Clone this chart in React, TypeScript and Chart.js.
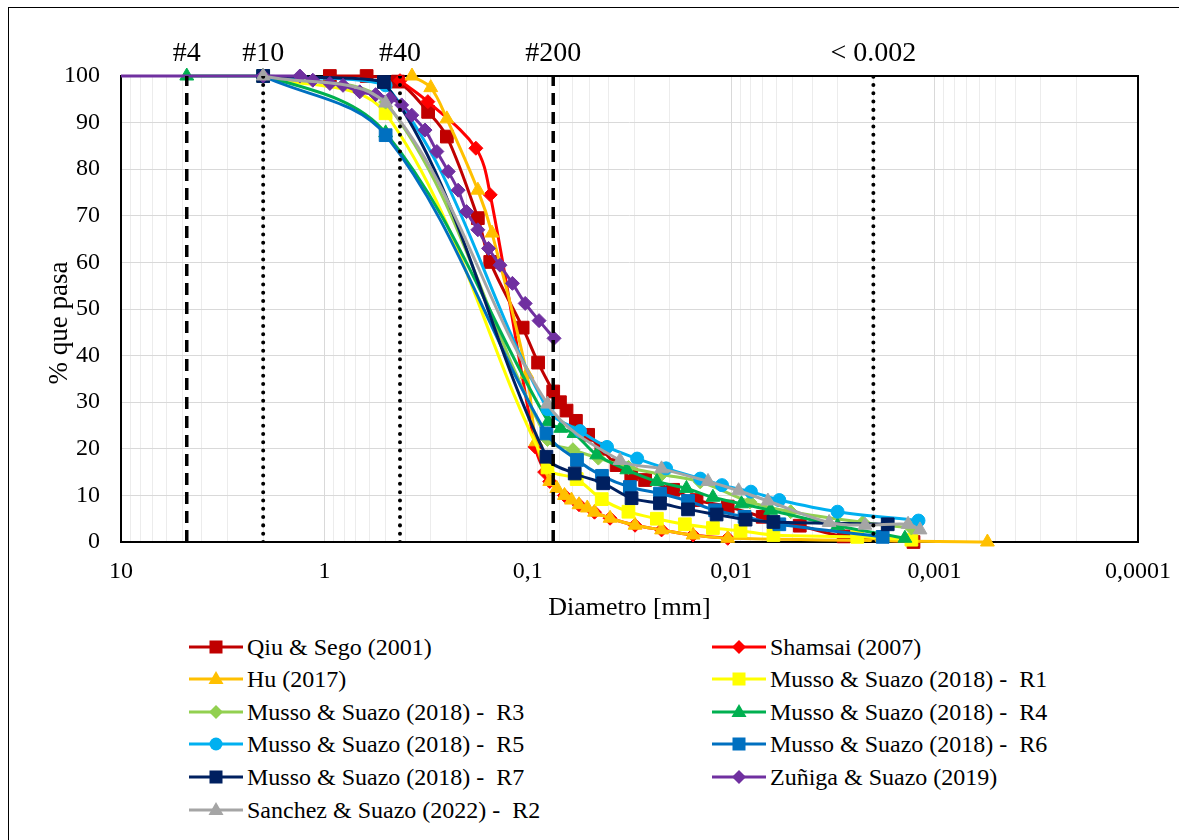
import React, { useEffect, useRef } from 'react';
import { Chart, registerables } from 'chart.js';

Chart.register(...registerables);

const FONT = "'Liberation Serif', 'Times New Roman', Times, serif";

// ---------------- data (diameter in mm, % passing) ----------------
const qiuD = [0.94, 0.62, 0.435, 0.309, 0.25, 0.176, 0.153, 0.106, 0.089, 0.075, 0.0695, 0.0645, 0.058, 0.0505, 0.0435, 0.0366, 0.031, 0.0265, 0.0193, 0.0148, 0.0104, 0.007, 0.0046, 0.0028, 0.00127];
const qiuP = [100, 100, 98.8, 92.3, 87, 69.5, 60.1, 46, 38.5, 32.3, 30, 28.2, 26, 23, 20, 16.5, 14.5, 13.3, 11.2, 9, 7.6, 5.4, 3.5, 1.2, 0];

const shamD = [0.425, 0.31, 0.18, 0.153, 0.092, 0.0826, 0.078, 0.066, 0.056, 0.047, 0.0394, 0.0297, 0.022, 0.0154, 0.0104];
const shamP = [99, 94.5, 84.5, 74.5, 20.4, 15, 13, 10, 8, 6.4, 5.1, 3.6, 2.6, 1.5, 0.8];

const huD = [0.371, 0.3, 0.25, 0.176, 0.15, 0.101, 0.0912, 0.078, 0.072, 0.066, 0.061, 0.056, 0.051, 0.047, 0.0394, 0.0297, 0.022, 0.0154, 0.0104, 0.00055];
const huP = [100, 97.5, 90.8, 75.5, 66.3, 36, 21.5, 13, 11.5, 10, 9, 8, 7.3, 6.4, 5.1, 3.6, 2.6, 1.5, 0.8, 0];

const r1D = [2, 0.5, 0.08, 0.0575, 0.0433, 0.032, 0.0232, 0.0169, 0.0123, 0.009, 0.0062, 0.0024, 0.0013];
const r1P = [100, 92, 16, 13.5, 9.2, 6.5, 5, 3.8, 3, 2.4, 1.5, 1.1, 0.5];

const r3D = [2, 0.5, 0.08, 0.06, 0.045, 0.032, 0.022, 0.0142, 0.0081, 0.0051, 0.00225, 0.0013];
const r3P = [100, 94.4, 22, 19.8, 18, 16, 14.5, 12.9, 8.6, 6.5, 4.2, 3];

const r4D = [4.75, 2, 0.5, 0.0793, 0.0689, 0.0593, 0.0458, 0.0326, 0.0232, 0.0166, 0.0123, 0.0089, 0.0064, 0.003, 0.0014];
const r4P = [100, 100, 87.8, 25.8, 24.4, 23.3, 18.7, 15.5, 13, 11.5, 9.6, 8.2, 6.8, 3.5, 0.8];

const r5D = [2, 0.5, 0.08, 0.0554, 0.0408, 0.029, 0.0209, 0.0142, 0.0111, 0.008, 0.0058, 0.003, 0.0012];
const r5P = [100, 98, 28.5, 23.8, 20.4, 17.9, 15.8, 13.6, 12.2, 10.8, 9, 6.5, 4.6];

const r6D = [2, 0.5, 0.081, 0.0573, 0.0432, 0.0315, 0.0224, 0.0163, 0.012, 0.0086, 0.0058, 0.0018];
const r6P = [100, 87.3, 23.3, 17.6, 14.2, 11.8, 10.4, 8.8, 6.8, 5.4, 3.8, 1.1];

const r7D = [2, 0.51, 0.081, 0.0588, 0.0426, 0.0309, 0.0224, 0.0163, 0.0118, 0.0085, 0.0062, 0.0017];
const r7P = [100, 98.7, 18.3, 14.7, 12.6, 9.4, 8.3, 7, 5.9, 4.8, 4.3, 3.8];

const zunD = [12, 2, 1.32, 1.14, 0.94, 0.81, 0.67, 0.56, 0.476, 0.417, 0.372, 0.32, 0.28, 0.246, 0.22, 0.2, 0.176, 0.156, 0.137, 0.119, 0.103, 0.088, 0.0743];
const zunP = [100, 100, 100, 99.1, 98.4, 98, 96.6, 96, 95.2, 93.8, 91.6, 88.4, 83.8, 79.5, 75.5, 70.9, 67, 63, 59.4, 55.5, 51.2, 47.5, 43.7];

const sanD = [2, 0.5, 0.08, 0.0352, 0.022, 0.013, 0.0092, 0.0066, 0.0033, 0.0022, 0.00135, 0.00118];
const sanP = [100, 94.2, 29.6, 17.5, 15.7, 13, 11, 8.8, 4.2, 3.6, 3.8, 2.6];

const seriesNames = [
  'Qiu & Sego (2001)',
  'Shamsai (2007)',
  'Hu (2017)',
  'Musso & Suazo (2018) -  R1',
  'Musso & Suazo (2018) -  R3',
  'Musso & Suazo (2018) -  R4',
  'Musso & Suazo (2018) -  R5',
  'Musso & Suazo (2018) -  R6',
  'Musso & Suazo (2018) -  R7',
  'Zuñiga & Suazo (2019)',
  'Sanchez & Suazo (2022) -  R2',
];
const seriesColors = ['#C00000', '#FF0000', '#FFC000', '#FFFF00', '#92D050', '#00B050', '#00B0F0', '#0070C0', '#002060', '#7030A0', '#A5A5A5'];
const seriesMarkers = ['rect', 'rectRot', 'triangle', 'rect', 'rectRot', 'triangle', 'circle', 'rect', 'rect', 'rectRot', 'triangle'];
const seriesData = [
  [qiuD, qiuP], [shamD, shamP], [huD, huP], [r1D, r1P], [r3D, r3P], [r4D, r4P],
  [r5D, r5P], [r6D, r6P], [r7D, r7P], [zunD, zunP], [sanD, sanP],
];

// x axis labels
const xTickValues = [10, 1, 0.1, 0.01, 0.001, 0.0001];
const xTickLabels = ['10', '1', '0,1', '0,01', '0,001', '0,0001'];

// sieve reference lines
const refLabels = ['#4', '#10', '#40', '#200', '< 0.002'];
const refSizes = [4.75, 2, 0.425, 0.075, 0.002];
const refDashed = [true, false, false, true, false];

const xTitle = 'Diametro [mm]';
const yTitle = '% que pasa';

const markerRadius: Record<string, number> = { rect: 9, rectRot: 7, triangle: 8, circle: 6.5 };

const annotPlugin = {
  id: 'annot',
  beforeDatasetsDraw(chart: any) {
    const { ctx, chartArea: a } = chart;
    ctx.save();
    ctx.strokeStyle = '#000';
    ctx.lineWidth = 2;
    ctx.strokeRect(a.left, a.top, a.right - a.left, a.bottom - a.top);
    ctx.restore();
  },
  afterDraw(chart: any) {
    const { ctx, chartArea: a } = chart;
    const xs = chart.scales.x;
    ctx.save();
    ctx.fillStyle = '#000';
    ctx.textAlign = 'center';
    ctx.textBaseline = 'middle';
    ctx.font = `26px ${FONT}`;
    ctx.fillText(xTitle, (a.left + a.right) / 2, a.bottom + 66);
    ctx.save();
    ctx.translate(a.left - 61, (a.top + a.bottom) / 2 + 14);
    ctx.rotate(-Math.PI / 2);
    ctx.font = `27px ${FONT}`;
    ctx.fillText(yTitle, 0, 0);
    ctx.restore();
    ctx.font = `28px ${FONT}`;
    refLabels.forEach((lab, i) => {
      ctx.fillText(lab, xs.getPixelForValue(refSizes[i]), a.top - 22);
    });
    ctx.restore();
  },
};

function LegendIcon({ color, marker }: { color: string; marker: string }) {
  let shape: any = null;
  if (marker === 'rect') shape = <rect x={20.5} y={3.5} width={13} height={13} fill={color} />;
  else if (marker === 'rectRot') shape = <polygon points="27,3 34,10 27,17 20,10" fill={color} />;
  else if (marker === 'triangle') shape = <polygon points="27,2 34.5,15 19.5,15" fill={color} />;
  else shape = <circle cx={27} cy={10} r={6.5} fill={color} />;
  return (
    <svg width={54} height={20} style={{ display: 'block' }}>
      <line x1={0} y1={10} x2={54} y2={10} stroke={color} strokeWidth={3} />
      {shape}
    </svg>
  );
}

export default function App() {
  const ref = useRef<HTMLCanvasElement | null>(null);

  useEffect(() => {
    document.body.style.margin = '0';
    const canvas = ref.current;
    if (!canvas) return;
    Chart.defaults.font.family = FONT;
    Chart.defaults.color = '#000';

    const dataSets: any[] = seriesData.map(([d, p], i) => ({
      label: seriesNames[i],
      data: d.map((x, j) => ({ x, y: p[j] })),
      borderColor: seriesColors[i],
      backgroundColor: seriesColors[i],
      pointBackgroundColor: seriesColors[i],
      pointBorderColor: seriesColors[i],
      pointBorderWidth: 1,
      pointStyle: seriesMarkers[i],
      pointRadius: markerRadius[seriesMarkers[i]],
      borderWidth: 3,
      showLine: true,
      tension: 0.35,
      order: 20 - i,
      clip: { left: 0, top: 20, right: 20, bottom: 20 },
    }));

    refSizes.forEach((s, i) => {
      dataSets.push({
        label: refLabels[i],
        data: [{ x: s, y: 0 }, { x: s, y: 100 }],
        borderColor: '#000',
        borderWidth: refDashed[i] ? 3.5 : 4,
        borderDash: refDashed[i] ? [12, 7] : [0.01, 8.3],
        borderCapStyle: refDashed[i] ? 'butt' : 'round',
        pointRadius: 0,
        showLine: true,
        tension: 0,
        order: 0,
      });
    });

    const isDecade = (v: number) => xTickValues.some((t) => Math.abs(t - v) / t < 1e-6);

    const chart = new Chart(canvas, {
      type: 'scatter',
      data: { datasets: dataSets },
      plugins: [annotPlugin],
      options: {
        animation: false,
        responsive: false,
        devicePixelRatio: 1,
        layout: { padding: { left: 0, right: 41, top: 76, bottom: 0 } },
        plugins: { legend: { display: false }, tooltip: { enabled: false } },
        scales: {
          x: {
            type: 'logarithmic',
            reverse: true,
            min: 0.0001,
            max: 10,
            afterBuildTicks: (scale: any) => {
              const t: any[] = [];
              for (let e = -4; e <= 0; e++) {
                for (let m = 1; m <= 9; m++) t.push({ value: parseFloat((m * Math.pow(10, e)).toPrecision(6)) });
              }
              t.push({ value: 10 });
              scale.ticks = t;
            },
            afterFit: (scale: any) => { scale.height = 78; },
            ticks: {
              autoSkip: false,
              maxRotation: 0,
              minRotation: 0,
              padding: 15,
              font: { size: 24, family: FONT },
              color: '#000',
              callback: (v: any) => {
                const k = xTickValues.findIndex((t) => Math.abs(t - Number(v)) / t < 1e-6);
                return k >= 0 ? xTickLabels[k] : '';
              },
            },
            grid: {
              drawTicks: false,
              lineWidth: 1,
              color: (c: any) => (c.tick && isDecade(c.tick.value) ? '#d9d9d9' : '#ececec'),
            },
            border: { display: false },
          },
          y: {
            min: 0,
            max: 100,
            afterFit: (scale: any) => { scale.width = 121; },
            ticks: { stepSize: 10, padding: 21, font: { size: 24, family: FONT }, color: '#000' },
            grid: { drawTicks: false, color: '#d9d9d9', lineWidth: 1 },
            border: { display: false },
          },
        },
      } as any,
    });
    return () => chart.destroy();
  }, []);

  const rowY = (r: number) => 646.5 + 32.6 * r;
  const iconX = [189, 712];
  const textX = [247, 770];

  return (
    <div style={{ position: 'absolute', left: 0, top: 0, width: 1179, height: 840, overflow: 'hidden', background: '#fff' }}>
      <div style={{ position: 'absolute', left: 8, top: 7, width: 1200, height: 900, borderTop: '1px solid #000', borderLeft: '1px solid #000' }} />
      <canvas ref={ref} width={1179} height={620} style={{ position: 'absolute', left: 0, top: 0, width: 1179, height: 620 }} />
      {seriesNames.map((name, i) => {
        const r = Math.floor(i / 2);
        const c = i % 2;
        const yc = rowY(r);
        return (
          <React.Fragment key={name}>
            <div style={{ position: 'absolute', left: iconX[c], top: yc - 10 }}>
              <LegendIcon color={seriesColors[i]} marker={seriesMarkers[i]} />
            </div>
            <div style={{ position: 'absolute', left: textX[c], top: yc - 14, height: 28, lineHeight: '28px', fontFamily: FONT, fontSize: 24, color: '#000', whiteSpace: 'pre' }}>
              {name}
            </div>
          </React.Fragment>
        );
      })}
    </div>
  );
}
